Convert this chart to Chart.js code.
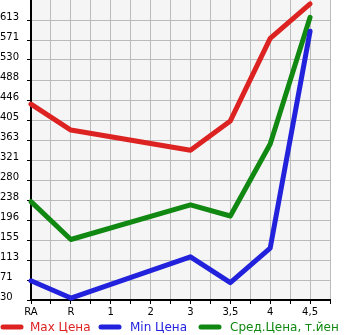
<!DOCTYPE html>
<html><head><meta charset="utf-8">
<script src="https://cdn.jsdelivr.net/npm/chart.js@4/dist/chart.umd.min.js"></script>
<style>html,body{margin:0;padding:0;background:#fff}#wrap{width:345px;height:335px}</style>
</head><body><div id="wrap"><canvas id="c" width="345" height="335"></canvas></div>
<script>
const xLabels = ['RA','R','1','2','3','3,5','4','4,5'];
const pointIdx = [0,1,4,5,6,7];
const maxPrice = [438,384,342,403,575,647];
const minPrice = [70,34,120,66,138,590];
const avgPrice = [235,156,228,205,355,619];
const yTicks = [30,71,113,155,196,238,280,321,363,405,446,488,530,571,613];
const seriesNames = ['Max Цена','Min Цена','Сред.Цена, т.йен'];
const colors = ['#dd2222','#2222dd','#118811'];

const toPts = arr => arr.map((v,i)=>({x:pointIdx[i], y:v}));

const bgPlugin = {
  id:'bg',
  beforeDraw(chart){
    const a = chart.chartArea, ctx = chart.ctx;
    ctx.save(); ctx.fillStyle='#f5f5f5';
    ctx.fillRect(a.left,a.top,a.right-a.left,a.bottom-a.top); ctx.restore();
  },
  afterDraw(chart){
    const ctx = chart.ctx;
    const items = [[0,30],[98,130],[198,230]];
    ctx.save();
    ctx.font = '12px "DejaVu Sans"';
    ctx.textBaseline = 'middle';
    items.forEach((it,i)=>{
      ctx.strokeStyle = colors[i]; ctx.lineWidth = 5; ctx.lineCap='round';
      ctx.beginPath(); ctx.moveTo(it[0]+3,327); ctx.lineTo(it[0]+21,327); ctx.stroke();
      ctx.fillStyle = colors[i];
      ctx.fillText(seriesNames[i], it[1], 328);
    });
    ctx.restore();
  }
};

new Chart(document.getElementById('c'), {
  type:'line',
  data:{datasets:[
    {label:seriesNames[0], data:toPts(maxPrice), borderColor:colors[0]},
    {label:seriesNames[1], data:toPts(minPrice), borderColor:colors[1]},
    {label:seriesNames[2], data:toPts(avgPrice), borderColor:colors[2]}
  ].map(d=>Object.assign(d,{borderWidth:5,pointRadius:0,tension:0,fill:false,borderJoinStyle:'round',borderCapStyle:'round',clip:false}))},
  options:{
    responsive:false, animation:false,
    layout:{padding:{left:0,right:15,top:0,bottom:0}},
    plugins:{legend:{display:false},tooltip:{enabled:false}},
    scales:{
      x:{type:'linear', min:0, max:7.5,
        afterBuildTicks(s){ const t=[]; for(let i=0;i<=15;i++) t.push({value:i/2}); s.ticks=t; },
        afterFit(s){ s.height = 35; s.paddingLeft = 0; s.paddingRight = 0; },
        ticks:{autoSkip:false, maxRotation:0, padding:2, color:'#000', font:{family:'DejaVu Sans', size:10},
          callback(v){ return Number.isInteger(v) ? xLabels[v] : ''; }},
        grid:{color:'#bbbbbb', lineWidth:1, tickLength:4, tickColor:'#000', drawTicks:true},
        border:{color:'#000', width:2}
      },
      y:{type:'linear', min:30, max:655,
        afterBuildTicks(s){ s.ticks = yTicks.map(v=>({value:v})); },
        afterFit(s){ s.width = 31; s.paddingTop = 0; s.paddingBottom = 0; },
        ticks:{autoSkip:false, padding:4, color:'#000', font:{family:'DejaVu Sans', size:10}, crossAlign:'far', labelOffset:-3,
          callback(v){ return String(v); }},
        grid:{color:'#bbbbbb', lineWidth:1, tickLength:4, tickColor:'#000'},
        border:{color:'#000', width:2}
      }
    }
  },
  plugins:[bgPlugin]
});
</script></body></html>
